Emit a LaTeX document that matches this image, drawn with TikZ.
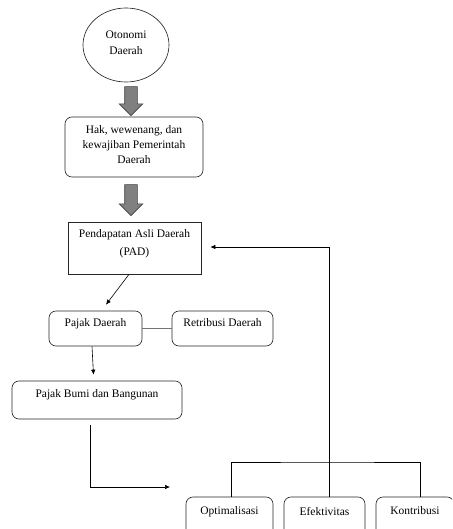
\documentclass[tikz,border=0pt]{standalone}
\usepackage{fontspec}
\setmainfont{Liberation Serif}
\usetikzlibrary{shapes.geometric,shapes.arrows,arrows.meta,calc}
\begin{document}
\begin{tikzpicture}[x=1pt,y=-1pt,
  every node/.style={font=\fontsize{11.5}{13}\selectfont},
  rbox/.style={draw=black!85, line width=0.65pt, rounded corners=7pt, inner sep=0pt, align=center},
  sbox/.style={draw=black!85, line width=0.65pt, inner sep=0pt, align=center},
  fat/.style={single arrow, draw=black!75, fill=black!50, line width=0.6pt, rotate=-90,
    inner xsep=0pt, inner ysep=6pt, single arrow head extend=5.5pt, single arrow tip angle=90},
  link/.style={line width=0.6pt},
  arr/.style={link, -{Latex[length=5pt,width=4.5pt]}}]
\clip (0,0) rectangle (452,529);
\useasboundingbox (0,0) rectangle (452,529);

\node[ellipse, draw=black!85, line width=0.65pt, minimum width=86pt, minimum height=74pt, inner sep=0pt, align=center,
  font=\fontsize{11.5}{16}\selectfont, text depth=5pt] (oto) at (126,45) {Otonomi\\Daerah};
\node[fat, minimum height=29pt] (fa1) at (131,98) {};
\node[rbox, minimum width=138pt, minimum height=60pt, font=\fontsize{11.5}{15}\selectfont, text depth=5pt] (hak) at (134,147)
  {Hak, wewenang, dan\\kewajiban Pemerintah\\Daerah};
\node[fat, minimum height=31pt] (fa2) at (131,197) {};
\node[sbox, minimum width=133pt, minimum height=52pt, font=\fontsize{11.5}{18}\selectfont, text depth=10pt] (pad) at (134.5,248)
  {Pendapatan Asli Daerah\\(PAD)};
\node[rbox, minimum width=93pt, minimum height=35pt, text depth=12pt] (pajak) at (95.5,328.5) {Pajak Daerah};
\node[rbox, minimum width=101pt, minimum height=35pt, text depth=12pt] (retr) at (222.5,328.5) {Retribusi Daerah};
\node[rbox, minimum width=170pt, minimum height=38pt, text depth=12pt] (pbb) at (97,400) {Pajak Bumi dan Bangunan};
\node[rbox, minimum width=87pt, minimum height=44pt, text depth=16pt] (opt) at (229.5,519) {Optimalisasi};
\node[rbox, minimum width=81pt, minimum height=44pt, text depth=16pt] (ef) at (324.5,519) {Efektivitas};
\node[rbox, minimum width=78pt, minimum height=44pt, text depth=16pt] (kon) at (415,519) {Kontribusi};

\coordinate (j) at (329,462);
\coordinate (t) at (329,247);
\coordinate (c1) at (170,487);

\draw[arr] ([xshift=-5.5pt]pad.south) -- ([xshift=10.5pt,yshift=6pt]pajak.north);
\draw[link, draw=black!55] (pajak.east) -- (retr.west);
\draw[arr] ([xshift=-3.5pt]pajak.south) -- ([xshift=-3.5pt,yshift=6pt]pbb.north);
\draw[arr] ([xshift=-7pt,yshift=-6pt]pbb.south) |- (c1);
\draw[link] ([xshift=1.5pt]opt.north) |- (j) -| ([xshift=5pt]kon.north);
\draw[link] (ef.north -| j) -- (j);
\draw[arr] (j) -- (t) -- ([xshift=9pt]pad.east |- t);
\end{tikzpicture}
\end{document}
